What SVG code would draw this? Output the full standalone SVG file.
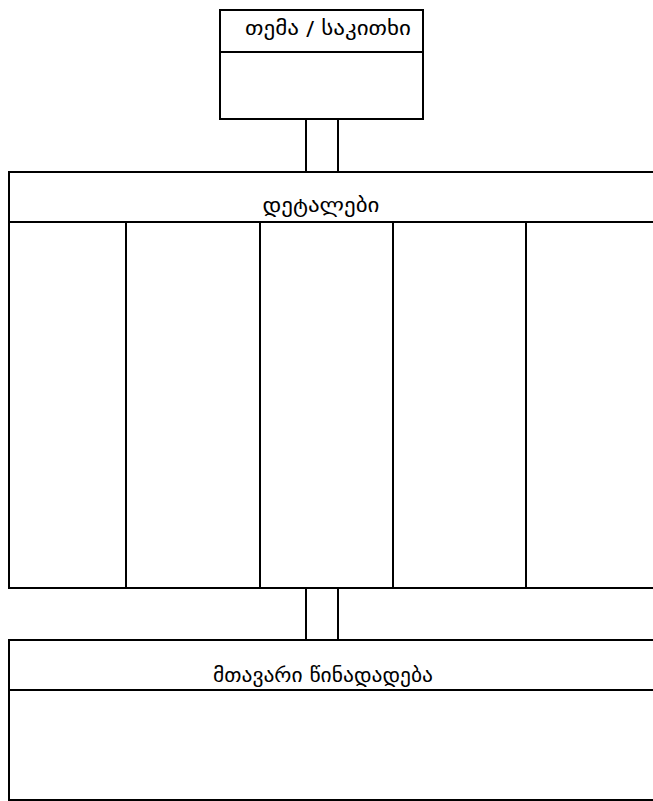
<svg xmlns="http://www.w3.org/2000/svg" width="653" height="801" viewBox="0 0 653 801">
<style>
.box{fill:#fff;stroke:#000;stroke-width:2}
.ln{fill:none;stroke:#000;stroke-width:2}
.t{font-family:"DejaVu Sans","Noto Sans",sans-serif;font-size:19px;fill:#000;text-anchor:middle}
</style>
<rect width="653" height="801" fill="#fff"/>
<g id="connectors">
<line class="ln" x1="306" y1="119" x2="306" y2="172"/>
<line class="ln" x1="338" y1="119" x2="338" y2="172"/>
<line class="ln" x1="306" y1="588" x2="306" y2="640"/>
<line class="ln" x1="338" y1="588" x2="338" y2="640"/>
</g>
<g id="topic">
<rect class="box" x="220" y="10" width="203" height="109"/>
<line class="ln" x1="220" y1="52" x2="423" y2="52"/>
<text class="t" x="328" y="35" textLength="166" lengthAdjust="spacingAndGlyphs">თემა / საკითხი</text>
</g>
<g id="details">
<rect class="box" x="9" y="172" width="660" height="416"/>
<line class="ln" x1="9" y1="222" x2="669" y2="222"/>
<line class="ln" x1="126" y1="222" x2="126" y2="588"/>
<line class="ln" x1="260" y1="222" x2="260" y2="588"/>
<line class="ln" x1="393" y1="222" x2="393" y2="588"/>
<line class="ln" x1="526" y1="222" x2="526" y2="588"/>
<text class="t" x="321" y="212" textLength="117" lengthAdjust="spacingAndGlyphs">დეტალები</text>
</g>
<g id="main">
<rect class="box" x="9" y="640" width="660" height="160"/>
<line class="ln" x1="9" y1="690" x2="669" y2="690"/>
<text class="t" x="323" y="682" textLength="220" lengthAdjust="spacingAndGlyphs">მთავარი წინადადება</text>
</g>
</svg>
